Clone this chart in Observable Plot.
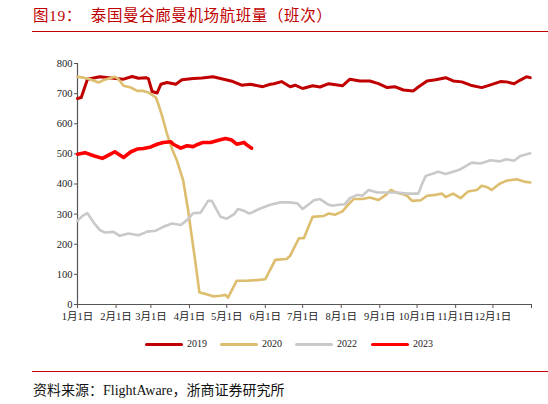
<!DOCTYPE html>
<html>
<head>
<meta charset="utf-8">
<script src="https://cdn.jsdelivr.net/npm/d3@7"></script>
<script src="https://cdn.jsdelivr.net/npm/@observablehq/plot@0.6"></script>
<style>
  body { margin: 0; background: #fff; width: 548px; height: 404px; overflow: hidden; position: relative;
         font-family: "Liberation Serif", "Noto Sans CJK SC", serif; }
  #title { position: absolute; left: 33px; top: 3px; font-size: 15.5px; color: #C00000; letter-spacing: 0.6px; white-space: pre; }
  .rule { position: absolute; left: 32px; right: 0; height: 0; border-top: 1.3px solid #C00000; }
  #chart { position: absolute; left: 0; top: 32px; }
  #legend { position: absolute; left: 0; top: 336px; width: 548px; height: 16px; }
  .item { position: absolute; top: 0; height: 16px; font-size: 10px; color: #222; line-height: 16px; }
  .item span.sw { position: absolute; left: 0; top: 6.5px; width: 38px; height: 3px; border-radius: 1.5px; }
  .item span.lb { position: absolute; left: 42px; top: 0; }
  #source { position: absolute; left: 33px; top: 379px; font-size: 14px; color: #111; white-space: pre; }
</style>
</head>
<body>
<div id="title">图19：  泰国曼谷廊曼机场航班量（班次）</div>
<div class="rule" style="top:31px"></div>
<div id="chart"></div>
<div id="legend"></div>
<div class="rule" style="top:371px"></div>
<div id="source">资料来源：FlightAware，浙商证券研究所</div>
<script>
// day-of-year offsets and flight counts
const days2019 = [0, 3, 8, 18, 29, 37, 44, 49, 55, 57, 60, 64, 67, 72, 79, 84, 93, 100, 109, 120, 125, 132, 139, 149, 155, 158, 164, 171, 175, 181, 189, 195, 202, 213, 219, 227, 235, 242, 249, 255, 262, 270, 274, 281, 288, 296, 302, 309, 316, 325, 332, 340, 345, 351, 356, 361, 364];
const vals2019 = [684, 687, 748, 756, 751, 748, 757, 751, 753, 750, 707, 702, 731, 737, 731, 746, 750, 752, 756, 745, 740, 728, 731, 723, 731, 733, 740, 723, 728, 717, 726, 722, 733, 726, 748, 742, 742, 733, 720, 723, 712, 709, 722, 742, 746, 753, 742, 739, 728, 720, 729, 740, 739, 733, 745, 756, 753];

const days2020 = [0, 5, 10, 17, 21, 30, 33, 37, 43, 48, 53, 57, 63, 65, 68, 72, 76, 80, 85, 89, 92, 95, 98, 101, 109, 115, 119, 121, 128, 136, 144, 151, 159, 168, 171, 178, 182, 189, 198, 202, 207, 213, 218, 222, 229, 235, 242, 248, 252, 256, 260, 265, 269, 276, 281, 288, 293, 296, 302, 308, 314, 321, 325, 330, 333, 339, 345, 353, 359, 364];
const vals2020 = [756, 753, 748, 737, 745, 756, 748, 726, 720, 709, 709, 704, 687, 665, 626, 566, 516, 477, 411, 311, 222, 134, 40, 37, 27, 29, 32, 23, 79, 79, 81, 84, 148, 151, 162, 220, 220, 291, 294, 302, 298, 309, 333, 350, 350, 355, 347, 364, 380, 372, 368, 361, 344, 346, 361, 364, 368, 357, 368, 353, 375, 380, 394, 388, 380, 400, 411, 416, 408, 405];

const days2022 = [0, 4, 8, 13, 18, 22, 29, 34, 41, 49, 56, 63, 69, 76, 83, 88, 93, 99, 105, 108, 115, 120, 126, 129, 134, 138, 140, 146, 155, 163, 171, 177, 181, 186, 190, 195, 201, 205, 210, 215, 219, 225, 229, 234, 241, 249, 257, 265, 274, 277, 280, 286, 290, 296, 302, 308, 317, 324, 332, 339, 345, 351, 356, 364];
const vals2022 = [278, 294, 303, 272, 247, 239, 241, 228, 236, 230, 242, 245, 258, 269, 264, 280, 303, 305, 344, 344, 291, 285, 300, 317, 311, 302, 305, 317, 331, 339, 339, 335, 317, 333, 346, 350, 333, 328, 331, 333, 353, 364, 361, 380, 372, 372, 372, 368, 368, 400, 427, 435, 441, 433, 441, 449, 471, 468, 479, 475, 482, 477, 493, 502];

const days2023 = [0, 6, 13, 20, 25, 30, 37, 43, 48, 53, 59, 64, 69, 75, 77, 83, 88, 93, 97, 101, 107, 114, 119, 124, 128, 134, 136, 140];
const vals2023 = [499, 504, 494, 485, 496, 507, 488, 507, 516, 518, 523, 532, 538, 540, 532, 519, 527, 524, 532, 538, 538, 546, 551, 546, 532, 538, 530, 519];

const years = ["2019", "2020", "2022", "2023"];
const colors = ["#C00000", "#DDBD6E", "#C9C9C9", "#FF0000"];
const widths = [3, 2.6, 2.6, 3.6];
const yTicks = [0, 100, 200, 300, 400, 500, 600, 700, 800];

const start = new Date(Date.UTC(2019, 0, 1));
const end = new Date(Date.UTC(2020, 0, 1));
const toDate = (d) => d3.utcDay.offset(start, d);
const monthTicks = d3.utcMonth.range(start, d3.utcDay.offset(end, 1));

const series = [
    [days2019, vals2019],
    [days2020, vals2020],
    [days2022, vals2022],
    [days2023, vals2023],
].map(([days, vals], i) => ({
    year: years[i],
    rows: days.map((d, j) => ({ date: toDate(d), value: vals[j] })),
}));

const chart = Plot.plot({
    width: 548,
    height: 300,
    marginLeft: 77,
    marginRight: 17,
    marginTop: 31,
    marginBottom: 28,
    style: { fontFamily: "Liberation Serif, Noto Sans CJK SC, serif", fontSize: "10.5px", color: "#222", background: "#fff" },
    x: { type: "utc", domain: [start, end] },
    y: { domain: [0, 800] },
    marks: [
        Plot.axisY({ ticks: yTicks, tickSize: 3, tickPadding: 2, label: null, stroke: "#555" }),
        Plot.axisX({
            ticks: monthTicks,
            tickSize: 4,
            tickPadding: 4,
            label: null,
            stroke: "#555",
            tickFormat: (d) => (d >= end ? "" : `${d.getUTCMonth() + 1}月1日`),
        }),
        Plot.ruleX([start], { y1: 0, y2: 800, stroke: "#555", strokeWidth: 1.2 }),
        Plot.ruleY([0], { x1: start, x2: end, stroke: "#555", strokeWidth: 1.2 }),
        ...series.map((s, i) =>
            Plot.line(s.rows, {
                x: "date",
                y: "value",
                stroke: colors[i],
                strokeWidth: widths[i],
                strokeLinejoin: "round",
                strokeLinecap: "round",
            })
        ),
    ],
});
document.getElementById("chart").appendChild(chart);

// legend
const legendLeft = [145, 220, 295, 371];
const legend = document.getElementById("legend");
years.forEach((y, i) => {
    const item = document.createElement("div");
    item.className = "item";
    item.style.left = legendLeft[i] + "px";
    item.innerHTML = `<span class="sw" style="background:${colors[i]}"></span><span class="lb">${y}</span>`;
    legend.appendChild(item);
});
</script>
</body>
</html>
